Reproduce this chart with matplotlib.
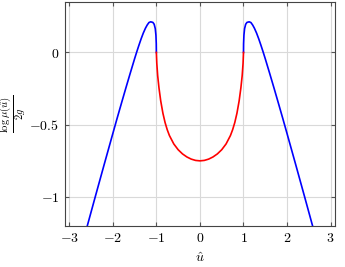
import numpy as np
import matplotlib
matplotlib.use("Agg")
import matplotlib.pyplot as plt

plt.rcParams['mathtext.fontset'] = 'cm'
plt.rcParams['font.family'] = 'serif'
plt.rcParams['font.serif'] = ['DejaVu Serif']

# outer branches |u| > 1 (blue)
u_left = [-2.6, -2.5, -2.4, -2.3, -2.2, -2.1, -2.0, -1.9, -1.8, -1.7, -1.6, -1.5,
          -1.45, -1.4, -1.35, -1.3, -1.25, -1.21, -1.17, -1.13, -1.08, -1.05,
          -1.025, -1.01, -1.002, -1.0]
y_left = [-1.216, -1.106, -0.996, -0.887, -0.778, -0.67, -0.562, -0.455, -0.35, -0.246, -0.144, -0.044,
          0.004, 0.05, 0.094, 0.134, 0.168, 0.19, 0.207, 0.212, 0.208, 0.195,
          0.165, 0.12, 0.06, 0.0]
u_right = [1.0, 1.002, 1.01, 1.025, 1.05, 1.08, 1.13, 1.17, 1.21, 1.25, 1.3, 1.35,
           1.4, 1.45, 1.5, 1.6, 1.7, 1.8, 1.9, 2.0, 2.1, 2.2, 2.3, 2.4, 2.5, 2.6]
y_right = [0.0, 0.06, 0.12, 0.165, 0.195, 0.208, 0.212, 0.207, 0.19, 0.168, 0.134, 0.094,
           0.05, 0.004, -0.044, -0.144, -0.246, -0.35, -0.455, -0.562, -0.67, -0.778, -0.887, -0.996, -1.106, -1.216]

# inner branch |u| < 1 (red)
u_mid = [-1.0, -0.99, -0.97, -0.94, -0.9, -0.85, -0.8, -0.75, -0.7, -0.6, -0.5, -0.4, -0.3, -0.2, -0.1,
         0.0, 0.1, 0.2, 0.3, 0.4, 0.5, 0.6, 0.7, 0.75, 0.8, 0.85, 0.9, 0.94, 0.97, 0.99, 1.0]
y_mid = [0.0, -0.075, -0.16, -0.245, -0.335, -0.42, -0.485, -0.535, -0.575, -0.633, -0.673, -0.702, -0.723, -0.738, -0.747,
         -0.75, -0.747, -0.738, -0.723, -0.702, -0.673, -0.633, -0.575, -0.535, -0.485, -0.42, -0.335, -0.245, -0.16, -0.075, 0.0]

xticks = [-3, -2, -1, 0, 1, 2, 3]
yticks = [-1, -0.5, 0]

fig = plt.figure(figsize=(3.45, 2.67), dpi=100)
ax = fig.add_axes([0.188, 0.154, 0.783, 0.839])

ax.plot(u_left, y_left, color='blue', lw=1.2)
ax.plot(u_right, y_right, color='blue', lw=1.2)
ax.plot(u_mid, y_mid, color='red', lw=1.2)

ax.set_xlim(-3.1, 3.1)
ax.set_ylim(-1.2, 0.35)
ax.set_xticks(xticks)
ax.set_yticks(yticks)
ax.set_xticklabels(['$%g$' % t for t in xticks])
ax.set_yticklabels(['$%g$' % t for t in yticks])
ax.grid(True, color='#d9d9d9', lw=0.8)
ax.set_axisbelow(True)
ax.tick_params(direction='in', top=True, right=True, labelsize=10, length=3,
               color='#555555', pad=4)
for s in ax.spines.values():
    s.set_color('#444444')
    s.set_linewidth(0.8)

ax.set_xlabel(r'$\hat{u}$', fontsize=10, labelpad=4)
ax.set_ylabel(r'$\frac{\log\mu(\hat{u})}{2g}$', fontsize=11)
ax.yaxis.set_label_coords(-0.135, 0.5)

fig.savefig('out.png', dpi=100)
